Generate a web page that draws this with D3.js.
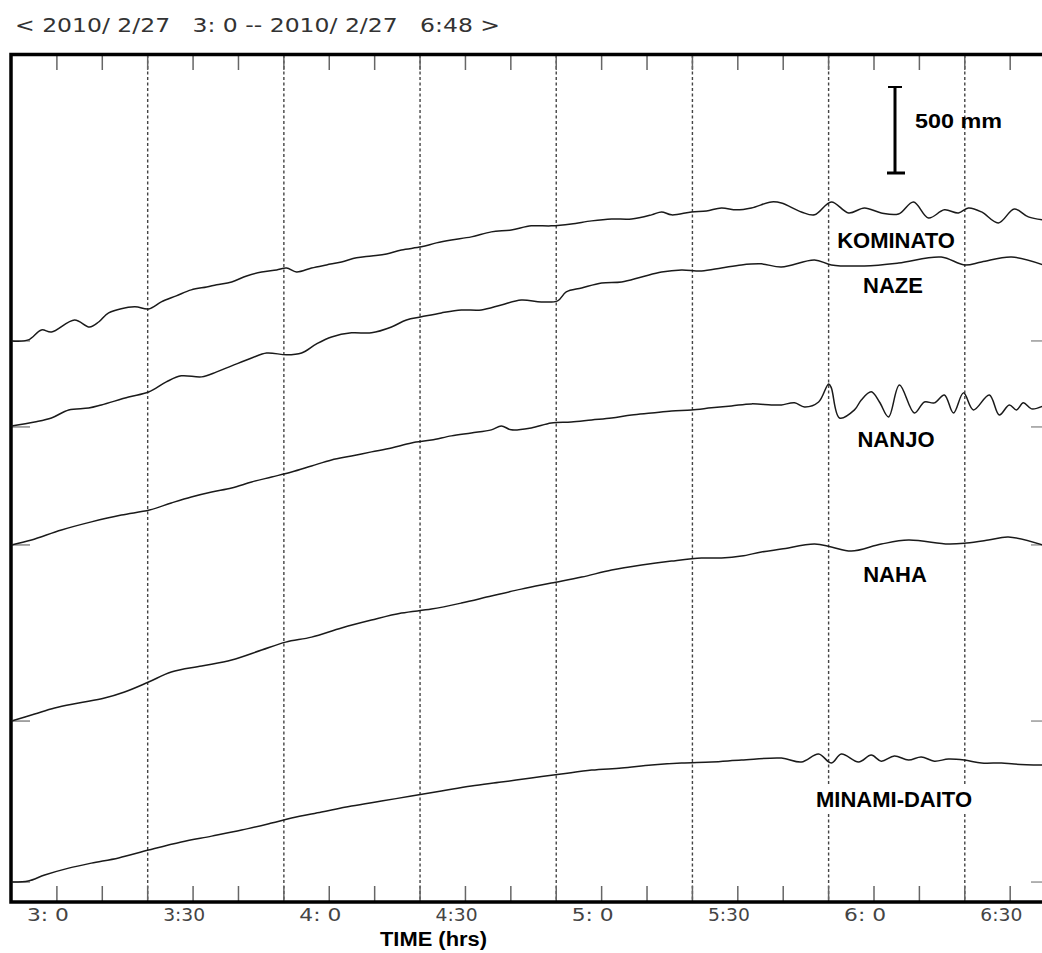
<!DOCTYPE html>
<html><head><meta charset="utf-8">
<script src="https://cdn.jsdelivr.net/npm/d3@7"></script>
<style>
html,body{margin:0;padding:0;background:#fff;}
svg{display:block;}
</style></head>
<body>
<svg id="chart" width="1042" height="953"></svg>
<script>
// ---- data (time = minutes after 2010/2/27 3:00, value = sea level change in mm) ----
const titleText = "< 2010/ 2/27   3: 0 -- 2010/ 2/27   6:48 >";
const timeDomain = [0, 228];
const labelTimes = [0, 30, 60, 90, 120, 150, 180, 210];
const tickLabels = ["3: 0", "3:30", "4: 0", "4:30", "5: 0", "5:30", "6: 0", "6:30"];
const minorTicks = d3.range(10, 228, 10);
const gridTimes = [30, 60, 90, 120, 150, 180, 210];
const stations = ["KOMINATO", "NAZE", "NANJO", "NAHA", "MINAMI-DAITO"];
const stationOffsetsMm = [3262, 2762, 2076, 1052, 116];
const scaleBarMm = 500;

const kominato = [[0,0],[3.7,6],[6.6,64],[8.8,52],[13.9,122],[17.2,81],[19.2,110],[21.4,163],[27.1,198],[30.2,186],
 [33.0,227],[36.3,262],[39.6,297],[43.0,314],[45.2,326],[48.5,343],[51.8,378],[55.1,401],[58.4,413],[60.6,424],
 [62.8,401],[66.1,424],[69.4,442],[72.7,459],[76.0,483],[79.3,494],[82.6,506],[85.9,529],[90.3,547],[93.6,570],
 [96.9,587],[101.3,605],[105.7,634],[110.1,645],[114.5,669],[118.9,669],[123.3,680],[127.8,698],[132.2,709],[136.6,709],
 [141.0,733],[143.2,750],[145.4,733],[149.8,750],[153.1,756],[156.4,773],[159.7,762],[163.0,773],[167.4,808],[169.6,802],
 [174.0,750],[176.9,733],[180.6,808],[184.4,744],[187.9,773],[191.6,744],[195.4,738],[198.7,808],[202.0,715],[205.5,762],
 [208.6,744],[210.8,773],[213.7,750],[217.4,686],[220.9,767],[224.0,721],[227.3,703]];

const naze = [[0,6],[5.1,29],[8.8,52],[12.6,99],[17.0,110],[19.8,128],[25.8,174],[30.2,203],[34.1,262],[37.4,297],
 [41.9,291],[45.2,320],[48.5,355],[52.9,401],[56.2,430],[60.6,419],[63.9,430],[67.2,483],[70.5,523],[74.9,547],
 [79.3,547],[83.7,581],[87.0,622],[90.3,640],[94.7,663],[99.1,680],[103.5,680],[107.9,709],[112.3,738],[116.7,727],
 [120.3,733],[122.2,785],[125.6,808],[130.0,837],[134.4,843],[138.8,872],[143.2,901],[147.6,913],[152.0,907],[156.4,924],
 [160.8,942],[165.2,948],[169.6,930],[176.9,971],[180.6,942],[187.9,936],[195.4,953],[204.8,988],[209.9,942],[213.7,959],
 [220.3,988],[227.3,942]];

const nanjo = [[0,0],[4.4,29],[11.0,87],[17.6,134],[24.2,174],[30.4,203],[35.2,244],[39.6,279],[44.1,308],[48.5,331],
 [52.9,366],[57.3,395],[61.7,424],[66.1,459],[70.5,494],[74.9,517],[79.3,541],[83.7,564],[88.1,593],[92.5,610],
 [96.9,634],[101.3,651],[105.7,669],[107.9,692],[110.1,669],[114.5,680],[118.9,709],[123.3,715],[127.8,727],[132.2,738],
 [136.6,756],[141.0,767],[145.4,779],[149.8,785],[154.2,797],[158.6,808],[163.0,820],[167.4,814],[169.6,814],[172.5,826],
 [174.7,802],[177.8,831],[180.0,936],[180.6,913],[182.4,738],[185.7,785],[187.2,843],[189.4,890],[191.2,831],[193.2,744],
 [195.6,930],[198.9,767],[201.1,831],[203.3,826],[205.5,872],[207.5,767],[209.7,884],[211.9,785],[215.4,872],[217.6,756],
 [219.8,814],[221.4,785],[222.9,826],[224.7,791],[227.3,808]];

const naha = [[0,0],[5.1,41],[9.5,76],[14.8,105],[20.5,134],[24.9,169],[30.2,227],[35.2,285],[41.9,320],[48.5,355],
 [55.1,413],[60.4,459],[66.1,488],[72.7,541],[79.3,587],[85.9,628],[92.5,651],[99.1,686],[105.7,727],[112.3,767],
 [118.9,802],[125.6,837],[132.2,878],[138.8,907],[145.4,930],[152.0,948],[156.4,948],[160.8,959],[165.2,983],[169.6,1000],
 [176.9,1029],[180.6,1012],[185.0,988],[191.6,1029],[197.6,1052],[206.4,1029],[210.4,1035],[215.2,1052],[219.6,1070],[227.3,1023]];

const minamiDaito = [[0,0],[3.7,6],[7.3,41],[12.6,81],[17.6,110],[23.6,140],[30.2,186],[37.4,233],[44.1,267],[50.7,302],
 [57.3,343],[61.7,372],[68.3,407],[74.9,442],[81.5,471],[88.1,500],[94.7,529],[101.3,558],[107.9,581],[114.5,605],
 [121.1,628],[127.8,651],[134.4,663],[141.0,680],[147.6,692],[154.2,698],[160.8,709],[169.6,721],[174.0,698],[177.8,744],
 [180.6,692],[182.8,744],[186.6,698],[189.4,738],[191.6,703],[194.5,733],[197.6,709],[200.4,727],[203.3,703],[206.4,715],
 [209.9,709],[213.7,692],[218.1,692],[220.9,686],[227.3,680]];

const series = [kominato, naze, nanjo, naha, minamiDaito];

// ---- drawing ----
const svg = d3.select("#chart");
const x = d3.scaleLinear().domain(timeDomain).range([11.5, 1046.5]);
const y = d3.scaleLinear().domain([0, 4936]).range([902, 53]);

// title
svg.append("text").attr("x", 15).attr("y", 32)
  .attr("font-family", "DejaVu Sans").attr("font-size", 20).attr("fill", "#333")
  .style("white-space", "pre")
  .attr("textLength", 485).attr("lengthAdjust", "spacingAndGlyphs")
  .text(titleText);

// dashed grid
svg.append("g").selectAll("line").data(gridTimes).join("line")
  .attr("x1", d => x(d)).attr("x2", d => x(d))
  .attr("y1", 55).attr("y2", 900)
  .attr("stroke", "#444").attr("stroke-width", 1.4).attr("stroke-dasharray", "3,2.5");

// minor ticks top and bottom
const ticks = svg.append("g").attr("stroke", "#666").attr("stroke-width", 1.5);
ticks.selectAll("line.t").data(minorTicks).join("line").attr("class", "t")
  .attr("x1", d => x(d)).attr("x2", d => x(d)).attr("y1", 54).attr("y2", 70);
ticks.selectAll("line.b").data(minorTicks).join("line").attr("class", "b")
  .attr("x1", d => x(d)).attr("x2", d => x(d)).attr("y1", 886).attr("y2", 902);

// left and right baseline ticks
ticks.selectAll("line.l").data(stationOffsetsMm).join("line").attr("class", "l")
  .attr("x1", 11).attr("x2", 30).attr("y1", d => y(d)).attr("y2", d => y(d)).attr("stroke", "#888");
ticks.selectAll("line.r").data(stationOffsetsMm).join("line").attr("class", "r")
  .attr("x1", 1031).attr("x2", 1046).attr("y1", d => y(d)).attr("y2", d => y(d)).attr("stroke", "#999");

// frame
svg.append("path")
  .attr("d", `M${x(228)},${y(4936)+1.5} H11 V${y(0)} H${x(228)}`)
  .attr("fill", "none").attr("stroke", "#000").attr("stroke-width", 3.5);

// traces
const line = d3.line().x(d => x(d[0])).curve(d3.curveCatmullRom.alpha(0.5));
svg.append("g").selectAll("path").data(series).join("path")
  .attr("d", (s, i) => line.y(d => y(stationOffsetsMm[i] + d[1]))(s))
  .attr("fill", "none").attr("stroke", "#1a1a1a").attr("stroke-width", 1.5);

// station labels with white boxes
const labelPos = [[896, 248], [893, 293], [896, 447], [895, 582], [894, 807]];
const lg = svg.append("g");
stations.forEach((name, i) => {
  const g = lg.append("g");
  const rect = g.append("rect").attr("fill", "#fff");
  const t = g.append("text").attr("x", labelPos[i][0]).attr("y", labelPos[i][1])
    .attr("text-anchor", "middle").attr("font-family", "Liberation Sans, Arial, sans-serif")
    .attr("font-weight", "bold").attr("font-size", 22).attr("fill", "#000").text(name);
  const bb = t.node().getBBox();
  rect.attr("x", bb.x - 3).attr("y", bb.y - 2).attr("width", bb.width + 6).attr("height", bb.height + 4);
});

// bottom tick labels
svg.append("g").selectAll("text").data(labelTimes).join("text")
  .attr("x", d => x(d) + 15.5).attr("y", 921)
  .attr("font-family", "DejaVu Sans").attr("font-size", 18).attr("fill", "#444")
  .style("white-space", "pre")
  .attr("textLength", 42).attr("lengthAdjust", "spacingAndGlyphs")
  .text((d, i) => tickLabels[i]);

// axis title
svg.append("text").attr("x", 380).attr("y", 946)
  .attr("font-family", "Liberation Sans, Arial, sans-serif").attr("font-weight", "bold")
  .attr("font-size", 20).attr("fill", "#000")
  .attr("textLength", 107).attr("lengthAdjust", "spacingAndGlyphs")
  .text("TIME (hrs)");

// scale bar
const barLen = y(0) - y(scaleBarMm);
const sb = svg.append("g").attr("stroke", "#000");
sb.append("line").attr("x1", 895).attr("x2", 895).attr("y1", 87).attr("y2", 87 + barLen).attr("stroke-width", 3);
sb.append("line").attr("x1", 888).attr("x2", 902).attr("y1", 87).attr("y2", 87).attr("stroke-width", 2);
sb.append("line").attr("x1", 887).attr("x2", 905).attr("y1", 87 + barLen).attr("y2", 87 + barLen).attr("stroke-width", 3);
svg.append("text").attr("x", 915).attr("y", 128)
  .attr("font-family", "Liberation Sans, Arial, sans-serif").attr("font-weight", "bold")
  .attr("font-size", 21).attr("fill", "#000")
  .attr("textLength", 87).attr("lengthAdjust", "spacingAndGlyphs")
  .text(scaleBarMm + " mm");
</script>
</body></html>
